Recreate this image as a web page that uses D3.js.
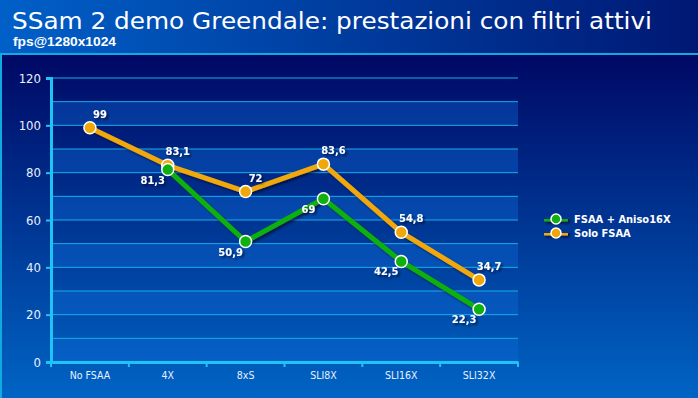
<!DOCTYPE html>
<html>
<head>
<meta charset="utf-8">
<script src="https://cdn.jsdelivr.net/npm/d3@7"></script>
<style>
  body { margin: 0; background: #000a66; }
  svg { display: block; }
</style>
</head>
<body>
<svg id="chart" width="698" height="398"></svg>
<script>
// data
const categories = ["No FSAA", "4X", "8xS", "SLI8X", "SLI16X", "SLI32X"]
const aniso = [null, 81.3, 50.9, 69, 42.5, 22.3]
const solo = [99, 83.1, 72, 83.6, 54.8, 34.7]
const yTicks = [0, 20, 40, 60, 80, 100, 120]
const seriesNames = ["FSAA + Aniso16X", "Solo FSAA"]

const W = 698, H = 398
const plotL = 51, plotR = 518, plotT = 78, plotB = 362
const font = "'DejaVu Sans Condensed', 'DejaVu Sans', sans-serif"

const svg = d3.select("#chart")
const defs = svg.append("defs")

const hdr = defs.append("linearGradient").attr("id", "hdr").attr("x1", 0).attr("x2", 1).attr("y1", 0).attr("y2", 0)
hdr.append("stop").attr("offset", 0).attr("stop-color", "#0060c8")
hdr.append("stop").attr("offset", 1).attr("stop-color", "#001874")

const pnl = defs.append("linearGradient").attr("id", "pnl").attr("x1", 0).attr("x2", 0).attr("y1", 0).attr("y2", 1)
pnl.append("stop").attr("offset", 0).attr("stop-color", "#000864")
pnl.append("stop").attr("offset", 1).attr("stop-color", "#0064c4")

const shadow = defs.append("filter").attr("id", "shd").attr("filterUnits", "userSpaceOnUse")
    .attr("x", 0).attr("y", 0).attr("width", W).attr("height", H)
shadow.append("feDropShadow").attr("dx", 2).attr("dy", 2).attr("stdDeviation", 1.2).attr("flood-color", "#000020").attr("flood-opacity", 0.6)

// background
svg.append("rect").attr("width", W).attr("height", 54).attr("fill", "url(#hdr)")
svg.append("rect").attr("y", 54).attr("width", W).attr("height", H - 54).attr("fill", "url(#pnl)")
svg.append("line").attr("x1", 0).attr("x2", W).attr("y1", 54).attr("y2", 54).attr("stroke", "#12a8e0").attr("stroke-width", 2)
svg.append("line").attr("x1", 1).attr("x2", 1).attr("y1", 54).attr("y2", H).attr("stroke", "#12a8e0").attr("stroke-width", 2)

svg.append("text").attr("x", 12).attr("y", 29).attr("fill", "white")
    .attr("font-family", "'DejaVu Sans', sans-serif").attr("font-size", 23.5)
    .attr("textLength", 640).attr("lengthAdjust", "spacingAndGlyphs")
    .text("SSam 2 demo Greendale: prestazioni con filtri attivi")
svg.append("text").attr("x", 13).attr("y", 46).attr("fill", "white")
    .attr("font-family", "'Liberation Sans Narrow', 'Liberation Sans', sans-serif").attr("font-weight", "bold")
    .attr("font-size", 12.5).attr("textLength", 103).attr("lengthAdjust", "spacingAndGlyphs")
    .text("fps@1280x1024")

// scales
const x = d3.scaleBand().domain(categories).range([plotL, plotR])
const y = d3.scaleLinear().domain([0, 120]).range([plotB, plotT])

const g = svg.append("g")

// bands
const bandStarts = d3.range(0, 120, 20)
g.selectAll(".band").data(bandStarts).enter().append("rect")
    .attr("x", plotL).attr("width", plotR - plotL)
    .attr("y", d => y(d + 10)).attr("height", d => y(d) - y(d + 10))
    .attr("fill", "#0c6ad8").attr("fill-opacity", 0.4)

// grid lines
g.selectAll(".grid").data(d3.range(10, 130, 10)).enter().append("line")
    .attr("x1", plotL).attr("x2", plotR)
    .attr("y1", d => y(d)).attr("y2", d => y(d))
    .attr("stroke", "#18aee8").attr("stroke-width", 1)

// axes
const yAxis = g.append("g").attr("transform", `translate(${plotL},0)`)
    .call(d3.axisLeft(y).tickValues(yTicks).tickSize(5).tickPadding(5))
const xAxis = g.append("g").attr("transform", `translate(0,${plotB})`)
    .call(d3.axisBottom(x).tickSize(0).tickPadding(10))
xAxis.selectAll(".bnd").data(categories.concat(["end"])).enter().append("line")
    .attr("x1", (d, i) => plotL + i * x.bandwidth()).attr("x2", (d, i) => plotL + i * x.bandwidth())
    .attr("y1", 0).attr("y2", 5).attr("stroke", "#20c4f4").attr("stroke-width", 2)

;[yAxis, xAxis].forEach(a => {
    a.select(".domain").attr("stroke", "#20c4f4").attr("stroke-width", 3)
    a.selectAll(".tick line").attr("stroke", "#20c4f4").attr("stroke-width", 2)
    a.selectAll("text").attr("fill", "#e8f0ff").attr("font-family", font)
})
yAxis.selectAll("text").attr("font-size", 13)
xAxis.selectAll("text").attr("font-size", 10.5)

// series
const cx = i => x(categories[i]) + x.bandwidth() / 2
const series = [
    { name: seriesNames[1], values: solo, color: "#f0a808", dx: 10, dy: -10 },
    { name: seriesNames[0], values: aniso, color: "#10b010", dx: -15, dy: 14 }
]
const line = d3.line().x(d => cx(d.i)).y(d => y(d.v))

series.forEach(s => {
    const pts = s.values.map((v, i) => ({ v, i })).filter(d => d.v != null)
    const sg = g.append("g")
    sg.append("path").datum(pts).attr("d", line).attr("fill", "none")
        .attr("stroke", s.color).attr("stroke-width", 5).attr("stroke-linejoin", "round")
        .attr("filter", "url(#shd)")
    sg.selectAll("circle").data(pts).enter().append("circle")
        .attr("cx", d => cx(d.i)).attr("cy", d => y(d.v)).attr("r", 6)
        .attr("fill", s.color).attr("stroke", "white").attr("stroke-width", 1.5)
})

// labels on top
series.forEach(s => {
    const pts = s.values.map((v, i) => ({ v, i })).filter(d => d.v != null)
    g.append("g").selectAll("text").data(pts).enter().append("text")
        .attr("x", d => cx(d.i) + s.dx).attr("y", d => y(d.v) + s.dy)
        .attr("text-anchor", "middle").attr("fill", "white")
        .attr("font-family", font).attr("font-weight", "bold").attr("font-size", 11)
        .attr("filter", "url(#shd)")
        .text(d => String(d.v).replace(".", ","))
})

// legend
const leg = svg.append("g").attr("transform", "translate(544,219)")
;[series[1], series[0]].forEach((s, i) => {
    const r = leg.append("g").attr("transform", `translate(0,${i * 14})`)
    r.append("rect").attr("x", 0).attr("y", -2.5).attr("width", 24).attr("height", 5)
        .attr("fill", s.color).attr("filter", "url(#shd)")
    r.append("circle").attr("cx", 12).attr("r", 5).attr("fill", s.color).attr("stroke", "white").attr("stroke-width", 1.5)
    r.append("text").attr("x", 30).attr("y", 4).attr("fill", "white")
        .attr("font-family", font).attr("font-weight", "bold").attr("font-size", 11).text(s.name)
})
</script>
</body>
</html>
